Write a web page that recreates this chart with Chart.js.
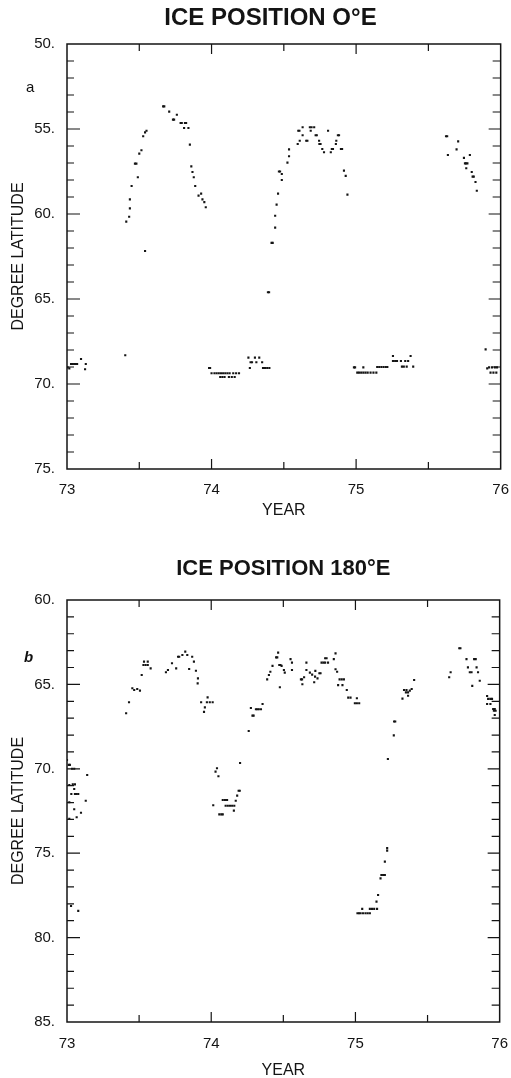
<!DOCTYPE html>
<html>
<head>
<meta charset="utf-8">
<title>Ice position</title>
<script src="https://cdn.jsdelivr.net/npm/chart.js@4.4.1/dist/chart.umd.min.js"></script>
<style>
  body { margin: 0; background: #fff; width: 511px; height: 1078px; overflow: hidden; position: relative;
         font-family: "Liberation Sans", Arial, sans-serif; }
  .panel { position: absolute; left: 0; width: 513px; }
  #wrapA { top: 0; height: 530px; }
  #wrapB { top: 530px; height: 552px; }
  .tag { position: absolute; font-size: 15px; color: #111; }
</style>
</head>
<body>
<div id="wrapA" class="panel"><canvas id="chartA"></canvas></div>
<div id="wrapB" class="panel"><canvas id="chartB"></canvas></div>
<div class="tag" style="left:26px; top:78px;">a</div>
<div class="tag" style="left:24px; top:648px; font-weight:bold; font-style:italic;">b</div>

<script>
// Axis labels
const yearLabels = ['73', '74', '75', '76'];
const latLabelsA = ['50.', '55.', '60.', '65.', '70.', '75.'];
const latLabelsB = ['60.', '65.', '70.', '75.', '80.', '85.'];

// Ice edge position at 0°E, [year, degree latitude]
const ice0E = [
  [73.004, 69.02], [73.016, 69.08], [73.028, 68.82], [73.04, 68.82], [73.05, 68.82], [73.06, 68.82],
  [73.07, 68.82], [73.097, 68.53], [73.13, 68.82], [73.125, 69.13], [73.403, 68.31],
  [73.41, 60.45], [73.43, 60.16], [73.435, 59.67], [73.435, 59.14], [73.447, 58.35], [73.49, 57.84],
  [73.47, 57.04], [73.48, 57.04], [73.50, 56.45], [73.515, 56.25], [73.527, 55.43], [73.54, 55.2],
  [73.55, 55.1], [73.54, 62.18],
  [73.665, 53.67], [73.673, 53.67], [73.707, 53.98], [73.733, 54.45], [73.741, 54.45], [73.76, 54.16],
  [73.786, 54.65], [73.794, 54.65], [73.816, 54.65], [73.824, 54.65], [73.81, 54.94], [73.84, 54.94],
  [73.85, 55.92], [73.86, 57.2], [73.868, 57.53], [73.877, 57.84], [73.887, 58.35], [73.91, 58.92],
  [73.928, 58.8], [73.937, 59.14], [73.95, 59.3], [73.96, 59.6],
  [73.983, 69.06], [73.99, 69.06], [74.0, 69.37], [74.02, 69.37], [74.035, 69.37], [74.05, 69.37],
  [74.065, 69.37], [74.08, 69.37], [74.095, 69.37], [74.11, 69.37], [74.125, 69.37], [74.15, 69.37],
  [74.17, 69.37], [74.19, 69.37], [74.06, 69.59], [74.075, 69.59], [74.09, 69.59], [74.12, 69.59],
  [74.14, 69.59], [74.16, 69.59],
  [74.255, 68.45], [74.30, 68.45], [74.33, 68.45], [74.27, 68.72], [74.28, 68.72], [74.31, 68.72],
  [74.35, 68.72], [74.265, 69.06], [74.356, 69.06], [74.37, 69.06], [74.385, 69.06], [74.40, 69.06],
  [74.39, 64.6], [74.398, 64.6], [74.415, 61.7], [74.423, 61.7], [74.44, 60.8], [74.44, 60.1],
  [74.45, 59.45], [74.46, 58.8], [74.466, 57.5], [74.474, 57.5], [74.486, 57.65], [74.486, 58.0],
  [74.525, 56.98], [74.536, 56.6], [74.536, 56.2], [74.596, 55.88], [74.61, 55.69], [74.6, 55.1],
  [74.608, 55.1], [74.63, 54.9], [74.63, 55.37], [74.655, 55.69], [74.663, 55.69], [74.686, 55.1],
  [74.68, 54.9], [74.692, 54.9], [74.71, 54.9], [74.72, 55.37], [74.728, 55.37], [74.744, 55.69],
  [74.746, 55.88], [74.754, 55.88], [74.766, 56.18], [74.778, 56.37], [74.806, 55.1], [74.825, 56.37],
  [74.832, 56.18], [74.84, 56.18], [74.86, 55.88], [74.863, 55.69], [74.874, 55.37], [74.882, 55.37],
  [74.895, 56.18], [74.903, 56.18], [74.916, 57.45], [74.928, 57.76], [74.94, 58.86],
  [74.985, 69.02], [74.993, 69.02], [75.05, 69.02], [75.008, 69.33], [75.02, 69.33], [75.035, 69.33],
  [75.05, 69.33], [75.065, 69.33], [75.08, 69.33], [75.1, 69.33], [75.12, 69.33], [75.14, 69.33],
  [75.146, 69.0], [75.16, 69.0], [75.175, 69.0], [75.19, 69.0], [75.205, 69.0], [75.216, 69.0],
  [75.255, 68.35], [75.255, 68.65], [75.27, 68.65], [75.283, 68.65], [75.31, 68.65], [75.34, 68.65],
  [75.36, 68.65], [75.317, 68.98], [75.33, 68.98], [75.35, 68.98], [75.377, 68.35], [75.395, 68.98],
  [75.622, 55.43], [75.63, 55.43], [75.635, 56.53], [75.706, 55.73], [75.695, 56.2], [75.746, 56.7],
  [75.753, 57.02], [75.761, 57.02], [75.77, 57.02], [75.787, 56.53], [75.762, 57.31], [75.8, 57.53],
  [75.806, 57.8], [75.814, 57.8], [75.826, 58.12], [75.835, 58.63],
  [75.896, 67.96], [75.907, 69.08], [75.92, 69.02], [75.94, 69.02], [75.96, 69.02], [75.975, 69.02],
  [75.93, 69.33], [75.95, 69.33], [75.97, 69.33]
];

// Ice edge position at 180°E, [year, degree latitude]
const ice180E = [
  [73.0, 69.48], [73.012, 69.77], [73.02, 69.77], [73.035, 70.0], [73.05, 70.0], [73.14, 70.37],
  [73.016, 70.96], [73.04, 70.92], [73.055, 70.92], [73.05, 71.2], [73.03, 71.49], [73.055, 71.49],
  [73.066, 71.49], [73.078, 71.49], [73.13, 71.89], [73.016, 71.98], [73.05, 72.4], [73.097, 72.6],
  [73.067, 72.87], [73.016, 72.97], [73.028, 78.13], [73.078, 78.42],
  [73.41, 66.71], [73.43, 66.06], [73.453, 65.23], [73.466, 65.33], [73.487, 65.27], [73.506, 65.37],
  [73.518, 64.44], [73.534, 63.65], [73.56, 63.65], [73.53, 63.85], [73.545, 63.85], [73.56, 63.85],
  [73.58, 64.05], [73.686, 64.28], [73.70, 64.15], [73.728, 63.75], [73.757, 64.05], [73.77, 63.36],
  [73.778, 63.36], [73.80, 63.26], [73.82, 63.06], [73.834, 63.26], [73.847, 64.09], [73.868, 63.36],
  [73.88, 63.65], [73.894, 64.19], [73.908, 64.64], [73.906, 64.94], [73.93, 66.06], [73.956, 66.36],
  [73.975, 65.77], [73.97, 66.06], [73.99, 66.06], [74.01, 66.06], [73.95, 66.63],
  [74.014, 72.16], [74.03, 70.17], [74.04, 69.97], [74.05, 70.44], [74.056, 72.7], [74.07, 72.7],
  [74.08, 72.7], [74.08, 71.85], [74.095, 71.85], [74.11, 71.85], [74.10, 72.19], [74.115, 72.19],
  [74.13, 72.19], [74.145, 72.19], [74.16, 72.19], [74.157, 72.48], [74.17, 71.89], [74.18, 71.59],
  [74.19, 71.3], [74.198, 71.3], [74.20, 69.66], [74.26, 67.76],
  [74.275, 66.4], [74.286, 66.85], [74.294, 66.85], [74.31, 66.47], [74.32, 66.47], [74.33, 66.47],
  [74.345, 66.47], [74.356, 66.16], [74.388, 64.7], [74.40, 64.44], [74.41, 64.25], [74.425, 63.9],
  [74.45, 63.4], [74.458, 63.4], [74.464, 63.12], [74.472, 63.85], [74.48, 63.85], [74.476, 65.17],
  [74.488, 63.9], [74.504, 64.15], [74.51, 64.3], [74.55, 63.5], [74.56, 63.71], [74.56, 64.15],
  [74.622, 64.7], [74.63, 64.7], [74.632, 64.99], [74.644, 64.58], [74.66, 63.71], [74.66, 64.15],
  [74.684, 64.3], [74.70, 64.42], [74.714, 64.87], [74.72, 64.54], [74.722, 64.2], [74.737, 64.64],
  [74.75, 64.34], [74.758, 64.34], [74.765, 63.71], [74.778, 63.71], [74.79, 63.71], [74.81, 63.71],
  [74.79, 63.45], [74.80, 63.45], [74.85, 63.5], [74.862, 63.16], [74.862, 64.1], [74.873, 64.25],
  [74.89, 64.7], [74.905, 64.7], [74.92, 64.7], [74.88, 65.04], [74.91, 65.04], [74.94, 65.33],
  [74.95, 65.78], [74.966, 65.78], [75.01, 65.82], [74.996, 66.12], [75.01, 66.12], [75.026, 66.12],
  [75.014, 78.56], [75.025, 78.56], [75.036, 78.56], [75.053, 78.56], [75.047, 78.3], [75.07, 78.56],
  [75.085, 78.56], [75.10, 78.56], [75.10, 78.3], [75.115, 78.3], [75.13, 78.3], [75.15, 78.3],
  [75.146, 77.87], [75.157, 77.48], [75.174, 76.49], [75.18, 76.29], [75.192, 76.29], [75.204, 76.29],
  [75.204, 75.5], [75.22, 74.85], [75.22, 74.7], [75.225, 69.42], [75.266, 68.02], [75.268, 67.2],
  [75.276, 67.2],
  [75.326, 65.84], [75.337, 65.33], [75.354, 65.33], [75.35, 65.47], [75.365, 65.47], [75.365, 65.67],
  [75.377, 65.37], [75.39, 65.27], [75.407, 64.74],
  [75.65, 64.58], [75.66, 64.28], [75.72, 62.86], [75.728, 62.86], [75.77, 63.5], [75.823, 63.5],
  [75.834, 63.5], [75.78, 63.99], [75.793, 64.28], [75.805, 64.28], [75.84, 63.99], [75.85, 64.28],
  [75.81, 65.09], [75.862, 64.78], [75.913, 65.69], [75.92, 65.86], [75.935, 65.86], [75.947, 65.86],
  [75.913, 66.16], [75.936, 66.16], [75.955, 66.46], [75.966, 66.46], [75.96, 66.56], [75.972, 66.56],
  [75.966, 66.81]
];

const FONT = '"Liberation Sans", Arial, sans-serif';
const INK = '#141414';

// Box round the plot with inward ticks on all four sides
const frameTicks = {
  id: 'frameTicks',
  afterDatasetsDraw(chart) {
    const { ctx, chartArea: a, scales: { x, y } } = chart;
    ctx.save();
    ctx.strokeStyle = INK;
    ctx.lineWidth = 1.5;
    ctx.strokeRect(a.left, a.top, a.right - a.left, a.bottom - a.top);
    ctx.lineWidth = 1.2;
    ctx.beginPath();
    for (let v = x.min + 0.5; v < x.max; v += 0.5) {
      const px = x.getPixelForValue(v);
      const len = Number.isInteger(v) ? 10 : 7;
      ctx.moveTo(px, a.bottom); ctx.lineTo(px, a.bottom - len);
      ctx.moveTo(px, a.top); ctx.lineTo(px, a.top + len);
    }
    for (let v = y.min + 1; v < y.max; v++) {
      const py = y.getPixelForValue(v);
      const major = v % 5 === 0;
      ctx.moveTo(a.left, py); ctx.lineTo(a.left + (major ? 13 : 7), py);
      ctx.moveTo(a.right, py); ctx.lineTo(a.right - (major ? 12 : 8), py);
    }
    ctx.stroke();
    ctx.restore();
  }
};

function makeChart(id, title, titleSize, points, latMin, latMax, latLabels, titlePad, xHeight, yearPad, tickPad) {
  return new Chart(document.getElementById(id), {
    type: 'scatter',
    data: {
      datasets: [{
        data: points.map(p => ({ x: p[0], y: p[1] })),
        pointStyle: 'rect',
        pointRadius: 1.5,
        backgroundColor: INK,
        borderWidth: 0
      }]
    },
    options: {
      responsive: true,
      maintainAspectRatio: false,
      animation: false,
      layout: { padding: { left: 0, right: 0, top: 0, bottom: 0 } },
      plugins: {
        legend: { display: false },
        tooltip: { enabled: false },
        title: {
          display: true,
          fullSize: false,
          text: title,
          color: INK,
          font: { family: FONT, size: titleSize, weight: 'bold' },
          padding: titlePad
        }
      },
      scales: {
        x: {
          type: 'linear',
          min: 73,
          max: 76,
          grid: { display: false },
          border: { display: false },
          ticks: {
            stepSize: 1,
            color: INK,
            padding: tickPad,
            font: { family: FONT, size: 15 },
            callback: v => yearLabels[Math.round(v - 73)]
          },
          title: {
            display: true,
            text: 'YEAR',
            color: INK,
            font: { family: FONT, size: 16 },
            padding: yearPad
          },
          afterFit(scale) { scale.height = xHeight; }
        },
        y: {
          type: 'linear',
          reverse: true,
          min: latMin,
          max: latMax,
          grid: { display: false },
          border: { display: false },
          ticks: {
            stepSize: 5,
            color: INK,
            padding: 4,
            font: { family: FONT, size: 15 },
            callback: v => latLabels[Math.round((v - latMin) / 5)]
          },
          title: {
            display: true,
            text: 'DEGREE LATITUDE',
            color: INK,
            font: { family: FONT, size: 16 },
            padding: 9
          },
          afterFit(scale) { scale.width = 67; }
        }
      }
    },
    plugins: [frameTicks]
  });
}

makeChart('chartA', 'ICE POSITION O\u00B0E\u00A0\u00A0\u00A0\u00A0', 24, ice0E, 50, 75, latLabelsA,
  { top: 3.6, bottom: 11.6 }, 61, 9.4, 4);
makeChart('chartB', 'ICE POSITION 180\u00B0E', 22, ice180E, 60, 85, latLabelsB,
  { top: 25.8, bottom: 17.8 }, 60, 1.4, 5);
</script>
</body>
</html>
